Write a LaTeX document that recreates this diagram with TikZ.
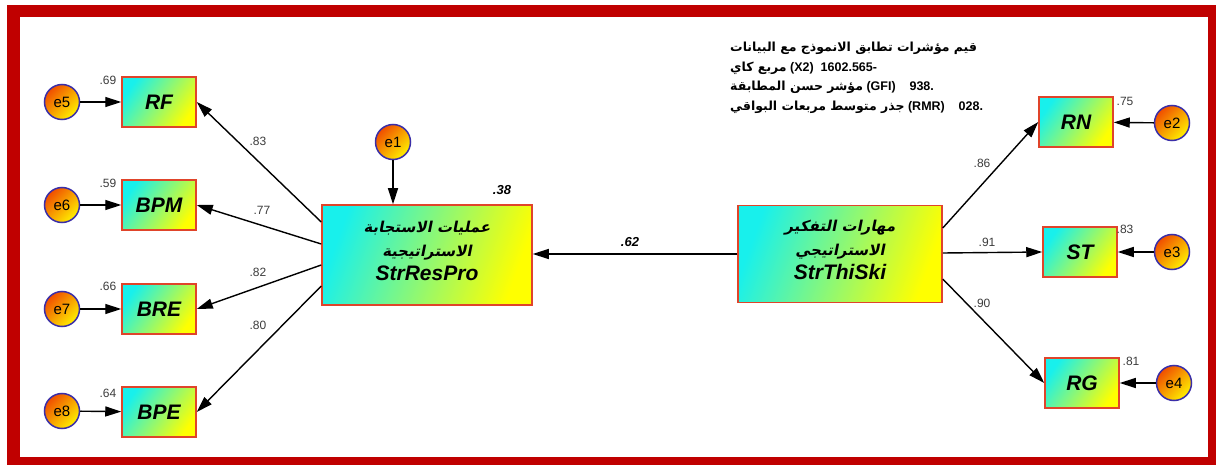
\documentclass[tikz,border=0pt]{standalone}
\usepackage{fontspec}
\setmainfont{Liberation Sans}
\newfontfamily\arabicfont[Script=Arabic]{DejaVu Sans Bold}
\newfontfamily\arabicslant[Script=Arabic,FakeSlant=0.2]{DejaVu Sans Bold}
\TeXXeTstate=1
\usepackage{tikz}
\usetikzlibrary{positioning, arrows.meta, calc}
\definecolor{frameRed}  {HTML}{C00000}
\definecolor{boxCyan}   {HTML}{18F0EC}
\definecolor{boxYellow} {HTML}{FFFF00}
\definecolor{boxEdge}   {HTML}{E0442A}
\definecolor{errOrange} {HTML}{F04E00}
\definecolor{errYellow} {HTML}{FFF000}
\definecolor{errEdge}   {HTML}{3A2EA8}
\definecolor{coefGray}  {HTML}{3C3C3C}
\newcommand{\arslant}[1]{{\arabicslant\upshape\fontsize{15}{24}\selectfont\beginR #1\endR}}
\tikzset{
  obsbox/.style={draw=boxEdge, line width=1.5pt, left color=boxCyan,
    right color=boxYellow, shading angle=55, minimum width=74pt,
    minimum height=50pt, inner sep=0pt,
    font=\bfseries\itshape\fontsize{21}{21}\selectfont},
  latbox/.style={draw=boxEdge, line width=1.5pt, left color=boxCyan,
    right color=boxYellow, shading angle=70, inner sep=0pt},
  lattext/.style={inner sep=0pt, align=center,
    font=\bfseries\itshape\fontsize{21}{24}\selectfont},
  errcirc/.style={circle, draw=errEdge, line width=1.5pt, top color=errOrange,
    bottom color=errYellow, shading angle=45, minimum size=35pt, inner sep=0pt,
    font=\fontsize{15}{15}\selectfont},
  patharrow/.style={line width=1.4pt, -{Triangle[length=16pt,width=10pt]}},
  coef/.style={font=\fontsize{12}{12}\selectfont, text=coefGray, inner sep=0pt},
  bigcoef/.style={font=\bfseries\itshape\fontsize{13}{13}\selectfont, inner sep=0pt},
}
\begin{document}
\begin{tikzpicture}[x=1pt, y=-1pt]
  \useasboundingbox (0,0) rectangle (1216,465);
  % frame
  \fill[frameRed] (7,5) rectangle (1216,465);
  \fill[white] (20,17) rectangle (1208,457);

  % latent variables
  \node[latbox, minimum width=210pt, minimum height=100pt] (res) at (427,255) {};
  \node[lattext] (restxt) at (427,251)
    {\arslant{عمليات الاستجابة}\\
     \arslant{الاستراتيجية}\\ StrResPro};
  \node[latbox, minimum width=204pt, minimum height=97pt] (thi) at (840,254) {};
  \node[lattext] (thitxt) at (840,250)
    {\arslant{مهارات التفكير}\\
     \arslant{الاستراتيجي}\\ StrThiSki};

  % indicators, left
  \node[obsbox] (rf)  at (159,102) {RF};
  \node[obsbox] (bpm) at (159,205) {BPM};
  \node[obsbox] (bre) at (159,309) {BRE};
  \node[obsbox] (bpe) at (159,412) {BPE};
  % indicators, right
  \node[obsbox] (rn) at (1076,122) {RN};
  \node[obsbox] (st) at (1080,252) {ST};
  \node[obsbox] (rg) at (1082,383) {RG};

  % errors
  \node[errcirc] (e1) at (393,142) {e1};
  \node[errcirc] (e2) at (1172,123) {e2};
  \node[errcirc] (e3) at (1172,252) {e3};
  \node[errcirc] (e4) at (1174,383) {e4};
  \node[errcirc] (e5) at (62,102) {e5};
  \node[errcirc] (e6) at (62,205) {e6};
  \node[errcirc] (e7) at (62,309) {e7};
  \node[errcirc] (e8) at (62,411) {e8};

  \draw[patharrow] (e1) -- (e1 |- res.north);
  \draw[patharrow] (e2) -- (rn);
  \draw[patharrow] (e3) -- (st);
  \draw[patharrow] (e4) -- (rg);
  \draw[patharrow] (e5) -- (rf);
  \draw[patharrow] (e6) -- (bpm);
  \draw[patharrow] (e7) -- (bre);
  \draw[patharrow] (e8) -- (bpe);

  % loadings
  \draw[patharrow] ([yshift=33pt]res.west) -- (rf.east);
  \draw[patharrow] ([yshift=11pt]res.west) -- (bpm.east);
  \draw[patharrow] ([yshift=-10pt]res.west) -- (bre.east);
  \draw[patharrow] ([yshift=-31pt]res.west) -- (bpe.east);
  \draw[patharrow] ([yshift=26pt]thi.east) -- (rn.west);
  \draw[patharrow] ([yshift=1pt]thi.east) -- (st.west);
  \draw[patharrow] ([yshift=-25pt]thi.east) -- (rg.west);
  \draw[patharrow] (thi.west) -- (res.east |- thi.west);

  % estimates
  \node[coef] (l83) at (258,141) {.83};
  \node[coef] (l77) at (262,210) {.77};
  \node[coef] (l82) at (258,272) {.82};
  \node[coef] (l80) at (258,325) {.80};
  \node[coef] (l86) at (982,163) {.86};
  \node[coef] (l91) at (987,242) {.91};
  \node[coef] (l90) at (982,303) {.90};
  \node[coef] (r69) at (108,80) {.69};
  \node[coef] (r59) at (108,183) {.59};
  \node[coef] (r66) at (108,286) {.66};
  \node[coef] (r64) at (108,393) {.64};
  \node[coef] (r75) at (1125,101) {.75};
  \node[coef] (r83) at (1125,229) {.83};
  \node[coef] (r81) at (1131,361) {.81};
  \node[bigcoef] (r38) at (502,190) {.38};
  \node[bigcoef] (b62) at (630,242) {.62};

  % fit indices
  \node[anchor=north west, align=left, inner sep=0pt,
        font=\bfseries\fontsize{12.5}{19.5}\selectfont] (fit) at (730,42)
    {{\arabicfont\beginR قيم مؤشرات تطابق الانموذج مع البيانات\endR}\\
     {\arabicfont\beginR مربع كاي\endR} (X2)\ \ 1602.565-\\
     {\arabicfont\beginR مؤشر حسن المطابقة\endR} (GFI)\ \ \ \ 938.\\
     {\arabicfont\beginR جذر متوسط مربعات البواقي\endR} (RMR)\ \ \ \ 028.};
\end{tikzpicture}
\end{document}
